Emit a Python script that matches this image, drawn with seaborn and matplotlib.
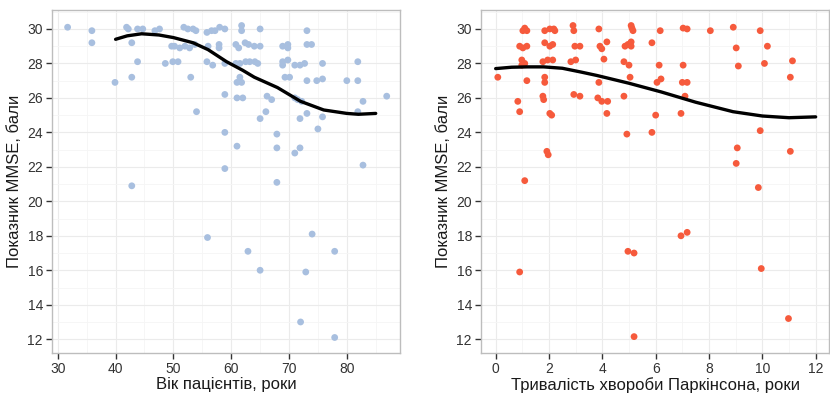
import numpy as np
import pandas as pd
import matplotlib
matplotlib.use("Agg")
import matplotlib.pyplot as plt
from matplotlib.ticker import MultipleLocator
import seaborn as sns

# left panel: age vs MMSE
age = [31.7, 35.9, 35.9, 39.9, 41.9, 42.2, 42.8, 43.8, 42.8, 43.8, 44.7, 46.8, 47.6, 48.6,
       51.8, 52.5, 53.4, 53.9, 55.8, 56.6, 57.2, 58.0, 58.9, 61.8, 61.8, 65.0,
       49.7, 50.2, 51.1, 52.0, 52.8, 53.7, 56.0, 57.9, 57.9,
       60.8, 61.3, 62.4, 63.0, 64.0, 65.0, 49.9, 50.8, 55.8, 56.8, 58.9,
       60.8, 61.5, 62.5, 63.2, 64.1, 64.6, 53.0, 61.5, 61.0, 61.8, 58.9, 61.0, 62.0,
       66.2, 67.0, 54.0, 66.0, 65.0,
       73.1, 68.9, 69.8, 69.8, 73.1, 73.9, 68.9, 69.8, 68.9, 71.0, 71.9, 72.7, 75.8, 81.9,
       69.3, 70.1, 73.1, 74.8, 75.8, 80.0, 81.9, 71.0, 71.5, 72.2, 82.8, 86.9, 81.9,
       73.1, 71.9, 75.8,
       58.9, 61.0, 58.9, 67.9, 67.9, 71.0, 71.9, 75.0, 82.8,
       42.8, 67.9, 55.9, 62.9, 65.0, 74.0, 77.9, 72.9, 72.0, 77.9]
mmse_age = [30.1, 29.9, 29.2, 26.9, 30.1, 30.0, 29.2, 28.1, 27.2, 30.0, 30.0, 29.9, 30.0, 28.0,
            30.1, 30.0, 30.0, 29.9, 29.8, 29.9, 29.9, 30.1, 30.0, 30.2, 29.9, 30.0,
            29.0, 29.0, 28.9, 29.0, 28.9, 29.1, 29.0, 29.1, 28.9,
            29.1, 28.9, 29.2, 29.1, 29.0, 29.0, 28.1, 28.1, 28.1, 27.9, 28.0,
            28.0, 28.0, 28.1, 28.1, 28.1, 28.0, 27.2, 27.2, 26.9, 26.9, 26.2, 26.0, 26.0,
            26.1, 25.9, 25.2, 25.2, 24.8,
            29.9, 29.0, 29.1, 28.9, 29.1, 29.1, 28.1, 28.2, 27.9, 27.9, 27.9, 28.0, 28.0, 28.1,
            27.2, 27.2, 27.0, 27.0, 27.1, 27.0, 27.0, 26.0, 25.9, 25.8, 25.8, 26.1, 25.2,
            25.1, 24.8, 24.9,
            24.0, 23.2, 21.9, 23.9, 23.1, 22.8, 23.1, 24.2, 22.1,
            20.9, 21.1, 17.9, 17.1, 16.0, 18.1, 17.1, 15.9, 13.0, 12.1]

# smoothed trend
trend_age = [40, 42, 44.5, 47.5, 50, 53.4, 56, 59.2, 62, 64, 68, 72, 76, 80, 82, 85]
trend_age_mmse = [29.4, 29.6, 29.72, 29.65, 29.5, 29.2, 28.8, 28.1, 27.6, 27.2, 26.6,
                  25.8, 25.3, 25.1, 25.05, 25.1]

# right panel: disease duration vs MMSE
dur = [1.09, 1.17, 1.02, 1.84, 2.03, 2.18, 2.22, 2.90, 2.93, 3.87,
       0.90, 1.02, 1.17, 1.84, 2.03, 2.14, 2.97, 3.16,
       0.98, 1.09, 0.98, 1.77, 1.95, 2.14, 2.82, 3.00,
       0.08, 1.17, 1.84, 1.84, 3.87, 2.93, 3.16, 3.83, 0.83, 1.77, 1.80, 0.90, 2.03, 2.10,
       4.92, 1.92, 1.97, 1.09, 0.90, 4.96, 5.19, 5.19, 6.95, 7.18, 9.85, 9.96, 10.98,
       5.08, 5.15, 5.11, 6.17, 7.03, 7.18, 8.05, 4.17, 3.91, 3.98,
       4.85, 4.96, 5.08, 5.08, 5.86, 4.06, 4.81, 5.00, 6.13, 7.03, 5.04,
       6.05, 6.20, 7.00, 7.18, 3.98, 4.20, 4.81, 7.10, 4.17, 6.00, 6.95, 5.86,
       9.06, 9.02, 9.92, 11.05,
       8.91, 9.92, 9.02, 10.19, 9.10, 10.08, 11.13, 11.05]
mmse_dur = [30.05, 29.9, 29.9, 29.9, 30.0, 30.0, 29.9, 30.2, 29.9, 30.0,
            29.0, 28.9, 29.0, 29.2, 29.0, 29.1, 29.0, 29.0,
            28.2, 28.0, 27.9, 28.1, 28.2, 28.2, 28.1, 28.2,
            27.2, 27.0, 27.2, 26.9, 26.9, 26.2, 26.1, 26.0, 25.8, 26.1, 25.9, 25.2, 25.1, 25.0,
            23.9, 22.9, 22.7, 21.2, 15.9, 17.1, 17.0, 12.15, 18.0, 18.2, 20.8, 16.1, 13.2,
            30.2, 29.9, 30.05, 29.9, 30.05, 30.0, 29.9, 29.25, 29.0, 28.85,
            29.0, 29.1, 29.25, 29.0, 29.2, 28.25, 28.1, 27.9, 27.9, 27.9, 27.2,
            26.9, 27.1, 26.9, 26.9, 25.8, 25.8, 26.1, 26.1, 25.1, 25.0, 25.1, 24.0,
            23.1, 22.2, 24.1, 22.9,
            30.1, 29.9, 28.9, 29.0, 27.85, 28.0, 28.15, 27.2]

trend_dur = [0, 0.6, 1.2, 1.8, 2.5, 3.2, 3.8, 5.0, 6.2, 7.5, 8.9, 10.0, 11.0, 12.0]
trend_dur_mmse = [27.7, 27.78, 27.8, 27.8, 27.72, 27.5, 27.3, 26.85, 26.35, 25.75,
                  25.2, 24.95, 24.85, 24.9]

sns.set_theme(style="white")
plt.rcParams['font.family'] = ['Liberation Sans', 'DejaVu Sans']

fig = plt.figure(figsize=(8.3, 3.95), dpi=100)
ax1 = fig.add_axes([52 / 830, 42 / 395, 348 / 830, 343 / 395])
ax2 = fig.add_axes([481 / 830, 42 / 395, 348 / 830, 343 / 395])

left = pd.DataFrame({'age': age, 'mmse': mmse_age})
right = pd.DataFrame({'dur': dur, 'mmse': mmse_dur})

sns.scatterplot(data=left, x='age', y='mmse', ax=ax1, color='#A8BFDF', s=24,
                edgecolor='none', zorder=3)
sns.lineplot(x=trend_age, y=trend_age_mmse, ax=ax1, color='black', lw=2.4, zorder=4)

sns.scatterplot(data=right, x='dur', y='mmse', ax=ax2, color='#F65A3C', s=24,
                edgecolor='none', zorder=3)
sns.lineplot(x=trend_dur, y=trend_dur_mmse, ax=ax2, color='black', lw=2.4, zorder=4)

for ax in (ax1, ax2):
    ax.set_ylim(11.2, 31.1)
    ax.yaxis.set_major_locator(MultipleLocator(2))
    ax.yaxis.set_minor_locator(MultipleLocator(1))
    ax.grid(True, which='major', color='#EBEBEB', lw=0.8, zorder=0)
    ax.grid(True, which='minor', color='#F5F5F5', lw=0.6, zorder=0)
    ax.set_axisbelow(True)
    for sp in ax.spines.values():
        sp.set_color('#BDBDBD')
        sp.set_linewidth(1.0)
    ax.tick_params(axis='both', which='major', direction='out', length=4, width=1,
                   color='#333333', labelsize=10, labelcolor='#333333', bottom=True, left=True,
                   pad=2.5)
    ax.tick_params(axis='both', which='minor', length=0)
    ax.set_ylabel('Показник MMSE, бали', fontsize=12, color='#1A1A1A', labelpad=4)

ax1.set_xlim(29.0, 89.2)
ax1.xaxis.set_major_locator(MultipleLocator(10))
ax1.xaxis.set_minor_locator(MultipleLocator(5))
ax1.set_xlabel('Вік пацієнтів, роки', fontsize=12, color='#1A1A1A', labelpad=1)

ax2.set_xlim(-0.55, 12.5)
ax2.xaxis.set_major_locator(MultipleLocator(2))
ax2.xaxis.set_minor_locator(MultipleLocator(1))
ax2.set_xlabel('Тривалість хвороби Паркінсона, роки', fontsize=12, color='#1A1A1A',
               labelpad=1)

fig.savefig('out.png', dpi=100)
